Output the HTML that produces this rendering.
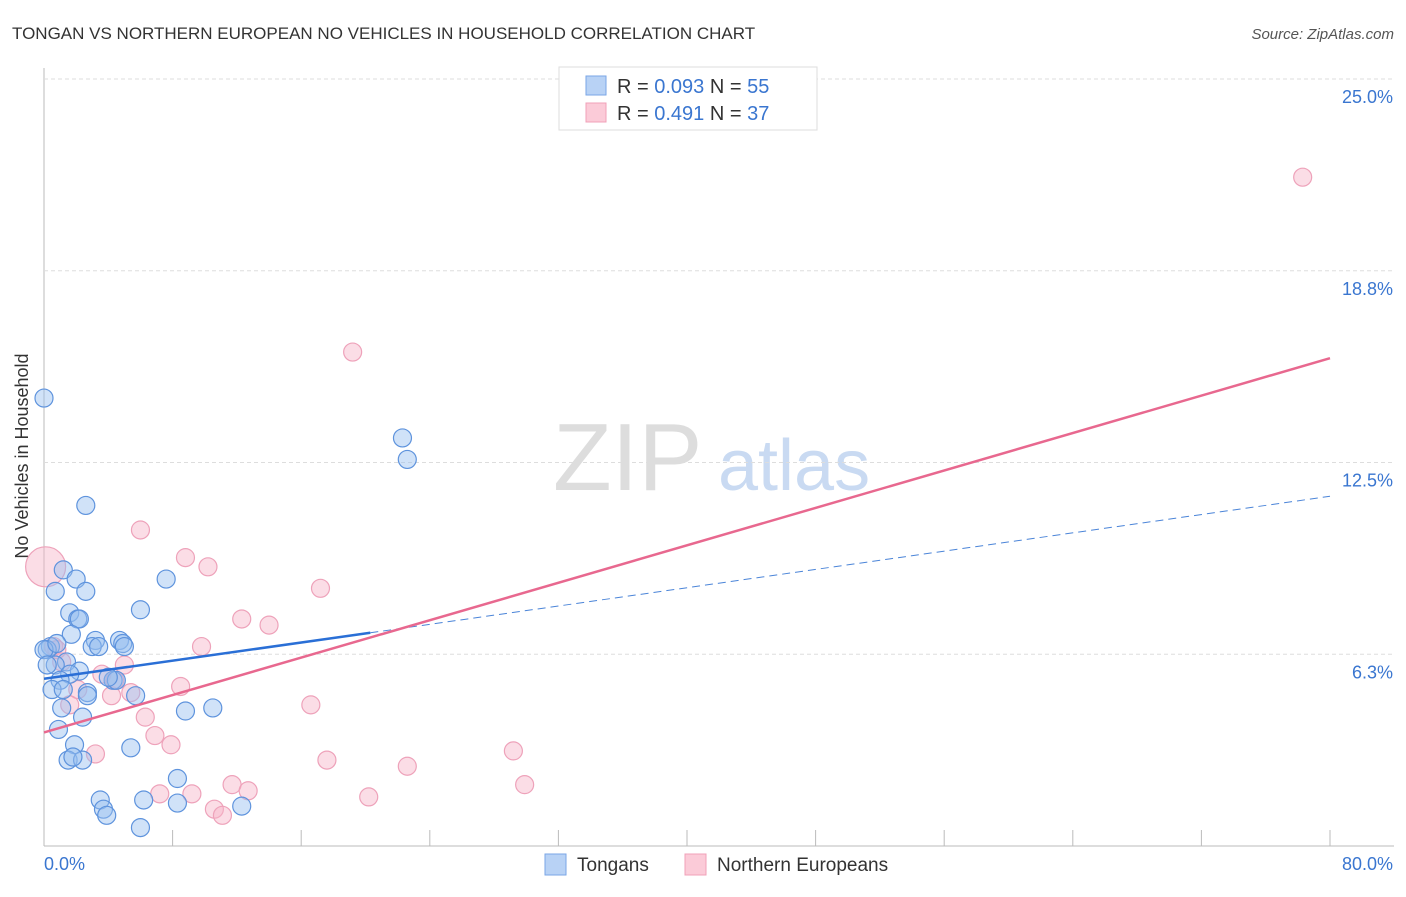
<!DOCTYPE html>
<html><head><meta charset="utf-8"><style>
body{margin:0;background:#fff;font-family:"Liberation Sans",sans-serif;}
svg text{font-family:"Liberation Sans",sans-serif;}
</style></head><body>
<svg id="c" width="1406" height="892" viewBox="0 0 1406 892">
<text x="12" y="39" font-size="17" fill="#333">TONGAN VS NORTHERN EUROPEAN NO VEHICLES IN HOUSEHOLD CORRELATION CHART</text>
<text x="1394" y="39" font-size="15" fill="#555" text-anchor="end" font-style="italic">Source: ZipAtlas.com</text>
<text x="28" y="456" font-size="18" fill="#333" text-anchor="middle" transform="rotate(-90 28 456)">No Vehicles in Household</text>
<text x="553" y="490" font-size="96" fill="#ddd" font-family="Liberation Serif">ZIP</text>
<text x="718" y="490" font-size="72" fill="#c9daf2">atlas</text>
<g id="grid"></g><g id="pts"></g><g id="lines"></g>
<g>
<rect x="559" y="67" width="258" height="63" fill="#fff" stroke="#ddd"/>
<rect x="586" y="76" width="20" height="19" fill="#b8d2f5" stroke="#7aa6e6"/>
<rect x="586" y="103" width="20" height="19" fill="#fbcbd8" stroke="#f0a0b8"/>
<text x="617" y="93" font-size="20" fill="#333">R = <tspan fill="#3a76d0">0.093</tspan>   N = <tspan fill="#3a76d0">55</tspan></text>
<text x="617" y="120" font-size="20" fill="#333">R =  <tspan fill="#3a76d0">0.491</tspan>   N = <tspan fill="#3a76d0">37</tspan></text>
</g>
<g>
<rect x="545" y="854" width="21" height="21" fill="#b8d2f5" stroke="#7aa6e6"/>
<text x="577" y="871" font-size="19" fill="#333">Tongans</text>
<rect x="685" y="854" width="21" height="21" fill="#fbcbd8" stroke="#f0a0b8"/>
<text x="717" y="871" font-size="19" fill="#333">Northern Europeans</text>
</g>
</svg>
<script>
const yTicks=[6.3,12.5,18.8,25.0];
const yTickVals=[6.25,12.5,18.75,25];
const blueX=[0,22.3,22.6,2.6,1.2,0.7,2.0,2.6,7.6,6.0,1.6,2.1,2.2,1.7,3.2,0.4,0.2,3.0,3.4,4.7,4.9,5.0,1.4,0.7,2.2,1.6,1.0,4.3,4.5,0.5,1.2,2.7,2.7,5.7,1.1,2.4,8.8,10.5,0.9,1.9,5.4,1.5,2.4,1.8,8.3,3.5,6.2,8.3,12.3,3.7,3.9,6.0,0.0,0.2,0.8,4.0];
const blueY=[14.6,13.3,12.6,11.1,9.0,8.3,8.7,8.3,8.7,7.7,7.6,7.4,7.4,6.9,6.7,6.5,6.4,6.5,6.5,6.7,6.6,6.5,6.0,5.9,5.7,5.6,5.4,5.4,5.4,5.1,5.1,5.0,4.9,4.9,4.5,4.2,4.4,4.5,3.8,3.3,3.2,2.8,2.8,2.9,2.2,1.5,1.5,1.4,1.3,1.2,1.0,0.6,6.4,5.9,6.6,5.5];
const pinkX=[78.3,19.2,6.0,8.8,10.2,17.2,12.3,14.0,9.8,0.6,1.1,5.0,3.6,8.5,5.4,2.1,4.2,0.1,16.6,6.3,1.6,6.9,7.9,3.2,17.6,29.2,22.6,11.7,12.7,7.2,9.2,20.2,29.9,10.6,11.1,4.4,0.8];
const pinkY=[21.8,16.1,10.3,9.4,9.1,8.4,7.4,7.2,6.5,6.5,6.0,5.9,5.6,5.2,5.0,5.1,4.9,9.1,4.6,4.2,4.6,3.6,3.3,3.0,2.8,3.1,2.6,2.0,1.8,1.7,1.7,1.6,2.0,1.2,1.0,5.4,6.4];
const pinkR=[9,9,9,9,9,9,9,9,9,9,9,9,9,9,9,9,9,20,9,9,9,9,9,9,9,9,9,9,9,9,9,9,9,9,9,9,9];
const blueTrend=[[0,5.45],[20.3,6.95],[80,11.4]];
const pinkTrend=[[0,3.7],[80,15.9]];
const NS='http://www.w3.org/2000/svg';
const X=v=>44+v/80*1286, Y=v=>846-v/25*767;
function mk(t,a,p){const e=document.createElementNS(NS,t);for(const k in a)e.setAttribute(k,a[k]);p.appendChild(e);return e;}
const grid=document.getElementById('grid');
mk('line',{x1:44,y1:68,x2:44,y2:846,stroke:'#bbb'},grid);
mk('line',{x1:44,y1:846,x2:1394,y2:846,stroke:'#bbb'},grid);
yTickVals.forEach((v,i)=>{
 const l=mk('line',{x1:44,y1:Y(v),x2:1394,y2:Y(v),stroke:'#ddd','stroke-dasharray':'4,3'},grid);
 
 
 const t=mk('text',{x:1393,y:Y(v)+24,'font-size':18,fill:'#3a76d0','text-anchor':'end'},grid);
 t.textContent=yTicks[i].toFixed(1)+'%';
 
 
});
for(let i=0;i<=10;i++){
 const tk=mk('line',{x1:X(i*8),y1:830,x2:X(i*8),y2:846,stroke:'#bbb'},grid);
 
 
}
const x0=mk('text',{x:44,y:870,'font-size':18,fill:'#3a76d0'},grid);x0.textContent='0.0%';


const x1=mk('text',{x:1393,y:870,'font-size':18,fill:'#3a76d0','text-anchor':'end'},grid);x1.textContent='80.0%';


const pts=document.getElementById('pts');
pinkX.forEach((v,i)=>{
 const c=mk('circle',{cx:X(v),cy:Y(pinkY[i]),r:pinkR[i],fill:'rgba(246,180,200,0.45)',stroke:'#eea2ba','stroke-width':1.2},pts);
 
 
});
blueX.forEach((v,i)=>{
 const c=mk('circle',{cx:X(v),cy:Y(blueY[i]),r:9,fill:'rgba(150,190,240,0.45)',stroke:'#5e93dd','stroke-width':1.2},pts);
 
 
});
const L=document.getElementById('lines');
const b1=mk('line',{x1:X(blueTrend[0][0]),y1:Y(blueTrend[0][1]),x2:X(blueTrend[1][0]),y2:Y(blueTrend[1][1]),stroke:'#2a6fd6','stroke-width':2.5},L);


const b2=mk('line',{x1:X(blueTrend[1][0]),y1:Y(blueTrend[1][1]),x2:X(blueTrend[2][0]),y2:Y(blueTrend[2][1]),stroke:'#4a84d8','stroke-width':1,'stroke-dasharray':'8,5'},L);


const p1=mk('line',{x1:X(pinkTrend[0][0]),y1:Y(pinkTrend[0][1]),x2:X(pinkTrend[1][0]),y2:Y(pinkTrend[1][1]),stroke:'#e8688f','stroke-width':2.5},L);


</script>
</body></html>
